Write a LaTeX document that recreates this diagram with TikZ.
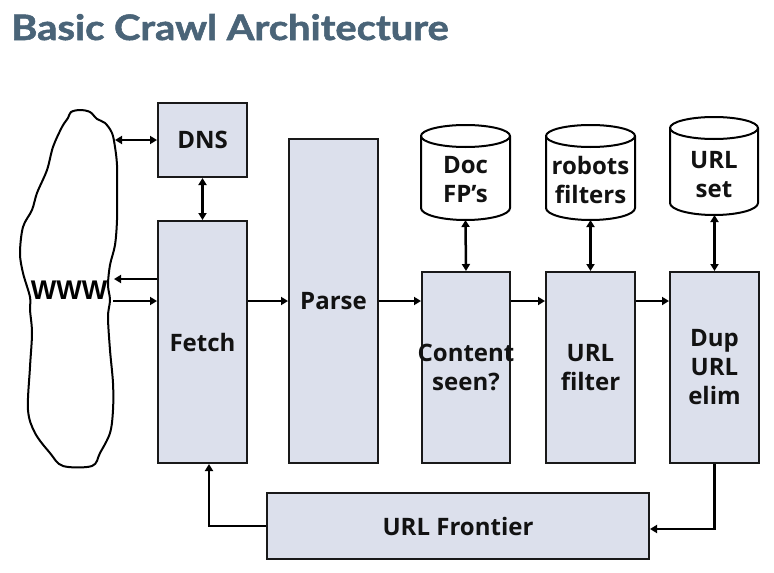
\documentclass[tikz,border=0pt]{standalone}
\usepackage{graphicx}
\usepackage{fontspec}
\setmainfont{Open Sans}
\newfontfamily\titlefont{Lato}[BoldFeatures={FakeBold=1.5}]
\newfontfamily\wwwfont{Liberation Sans}
\usetikzlibrary{arrows.meta}
\definecolor{boxfill}{HTML}{DCE0EC}
\definecolor{titleblue}{HTML}{4A6478}
\begin{document}
\begin{tikzpicture}[x=1pt,y=-1pt,
  txt/.style={font=\bfseries\fontsize{24}{29}\selectfont, align=center, text=black!93},
  box/.style={txt, draw=black!90, line width=2pt, fill=boxfill, inner sep=0pt},
  lbl/.style={txt, inner sep=0pt},
  arr/.style={line width=2.5pt, -{Triangle[length=7pt,width=8pt]}},
  darr/.style={line width=2.5pt, {Triangle[length=7pt,width=8pt]}-{Triangle[length=7pt,width=8pt]}},
  cyl/.style={draw=black, line width=2pt, fill=white}]
\useasboundingbox (0,0) rectangle (774,573);

% title
\node[anchor=base west, inner sep=0pt, font=\titlefont\bfseries\fontsize{35}{40}\selectfont, text=titleblue] (title) at (11,40) {\scalebox{1.14}[1]{Basic Crawl Architecture}};

% WWW blob
\draw[line width=2pt, line join=round] plot[smooth cycle, tension=0.55] coordinates {
(71,112) (80,110) (90,112) (97,119) (105,123) (112,133) (115,147) (117,165) (117,190) (117,220) (115,245) (110,265) (108,285) (110,300) (108,317) (110,350) (113,383) (113,410) (110,433) (100,453) (92,466) (63,466) (50,453) (35,433) (28,410) (30,367) (32,333) (30,310) (30,297) (23,273) (20,253) (23,227) (32,210) (37,193) (47,170) (53,147) (62,127) (68,118)};
\node[inner sep=0pt, font=\wwwfont\bfseries\fontsize{27}{30}\selectfont] (www) at (69,290) {WWW};

% boxes
\node[box, minimum width=89pt, minimum height=74pt] (dns) at (202.5,140) {DNS};
\node[box, minimum width=89pt, minimum height=242pt] (fetch) at (202.5,342) {Fetch};
\node[box, minimum width=89pt, minimum height=324pt] (parse) at (333.5,301) {Parse};
\node[box, minimum width=88pt, minimum height=191pt] (content) at (466,367.5) {\makebox[0pt][c]{Content}\\seen?};
\node[box, minimum width=89pt, minimum height=191pt] (urlf) at (590.5,367.5) {URL\\filter};
\node[box, minimum width=89pt, minimum height=191pt] (dup) at (714.5,367.5) {Dup\\URL\\elim};
\node[box, minimum width=382pt, minimum height=66pt] (frontier) at (458,526) {URL Frontier};

% cylinders
\path[cyl] (421,136) -- (421,208) arc[start angle=180,end angle=360,x radius=44.5pt,y radius=12pt] -- (510,136) arc[start angle=0,end angle=180,x radius=44.5pt,y radius=11pt] -- cycle;
\draw[line width=2pt] (421,136) arc[start angle=180,end angle=360,x radius=44.5pt,y radius=11pt];
\node[lbl] (doc) at (465.5,180) {Doc\\FP’s};
\coordinate (docb) at (465.5,220);

\path[cyl] (546,136) -- (546,208) arc[start angle=180,end angle=360,x radius=44.5pt,y radius=12pt] -- (635,136) arc[start angle=0,end angle=180,x radius=44.5pt,y radius=11pt] -- cycle;
\draw[line width=2pt] (546,136) arc[start angle=180,end angle=360,x radius=44.5pt,y radius=11pt];
\node[lbl] (robots) at (590.5,180) {robots\\filters};
\coordinate (robb) at (590.5,220);

\path[cyl] (670,128) -- (670,203) arc[start angle=180,end angle=360,x radius=44pt,y radius=12pt] -- (758,128) arc[start angle=0,end angle=180,x radius=44pt,y radius=11pt] -- cycle;
\draw[line width=2pt] (670,128) arc[start angle=180,end angle=360,x radius=44pt,y radius=11pt];
\node[lbl] (urlset) at (714,175) {URL\\set};
\coordinate (urlsb) at (714.5,215);

% connectors
\coordinate (w1) at (115,140);
\coordinate (w2) at (114,279);
\coordinate (w3) at (113,301);
\draw[darr] (w1) -- (dns.west);
\draw[darr] (dns) -- (fetch);
\draw[arr] (fetch.west |- w2) -- (w2);
\draw[arr] (w3) -- (fetch.west |- w3);
\draw[arr] (fetch.east |- parse) -- (parse.west);
\draw[arr] (parse.east) -- (parse.east -| content.west);
\draw[arr] (content.east |- parse.east) -- (urlf.west |- parse.east);
\draw[arr] (urlf.east |- parse.east) -- (dup.west |- parse.east);
\draw[darr] (docb) -- (content.north);
\draw[darr] (robb) -- (urlf.north);
\draw[darr] (urlsb) -- (dup.north);
\draw[arr] (dup.south) |- ([yshift=-3pt]frontier.east);
\draw[arr] (frontier.west) -| ([xshift=6.5pt]fetch.south);
\end{tikzpicture}
\end{document}
